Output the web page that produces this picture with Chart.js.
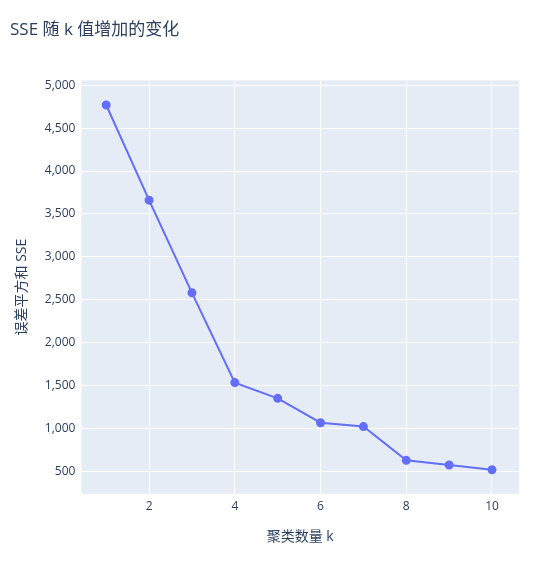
<!DOCTYPE html>
<html><head><meta charset="utf-8">
<script src="https://cdn.jsdelivr.net/npm/chart.js@4"></script>
<style>html,body{margin:0;padding:0;background:#fff}#w{width:543px;height:561px;position:relative}</style>
</head><body><div id="w"><canvas id="c"></canvas></div>
<script>
const kValues = [1,2,3,4,5,6,7,8,9,10];
const sseValues = [4770,3660,2580,1533,1349,1065,1020,626,572,516];
const yTicks = [500,1000,1500,2000,2500,3000,3500,4000,4500,5000];
const xTicks = [2,4,6,8,10];
const font = "'Open Sans', 'Noto Sans CJK SC', sans-serif";
const bg = {id:'bg',beforeDraw(ch){const a=ch.chartArea,c=ch.ctx;c.save();c.fillStyle='#E5ECF6';c.fillRect(a.left,a.top,a.right-a.left,a.bottom-a.top);c.restore();}};
new Chart(document.getElementById('c'),{
type:'scatter',
data:{datasets:[{data:kValues.map((k,i)=>({x:k,y:sseValues[i]})),showLine:true,borderColor:'#636EFA',backgroundColor:'#636EFA',borderWidth:2,pointRadius:3.5,pointHoverRadius:3.5}]},
options:{responsive:true,maintainAspectRatio:false,animation:false,
layout:{padding:{left:10,right:24,top:20,bottom:12}},
plugins:{legend:{display:false},tooltip:{enabled:false},
title:{display:true,text:'SSE 随 k 值增加的变化',align:'start',color:'#2a3f5f',font:{family:font,size:17,weight:'normal'},padding:{top:0,bottom:40}}},
scales:{
x:{type:'linear',min:0.42,max:10.63,afterBuildTicks(s){s.ticks=xTicks.map(v=>({value:v}));},
grid:{color:'#fff',lineWidth:1,drawTicks:false},border:{display:false},
ticks:{color:'#2a3f5f',font:{family:font,size:12},padding:6},
title:{display:true,text:'聚类数量 k',color:'#2a3f5f',font:{family:font,size:14},padding:{top:8}}},
y:{min:236,max:5057,afterBuildTicks(s){s.ticks=yTicks.map(v=>({value:v}));},
grid:{color:'#fff',lineWidth:1,drawTicks:false},border:{display:false},
ticks:{color:'#2a3f5f',font:{family:font,size:12},padding:6},
title:{display:true,text:'误差平方和 SSE',color:'#2a3f5f',font:{family:font,size:14},padding:{bottom:8}}}
}},plugins:[bg]});
</script></body></html>
